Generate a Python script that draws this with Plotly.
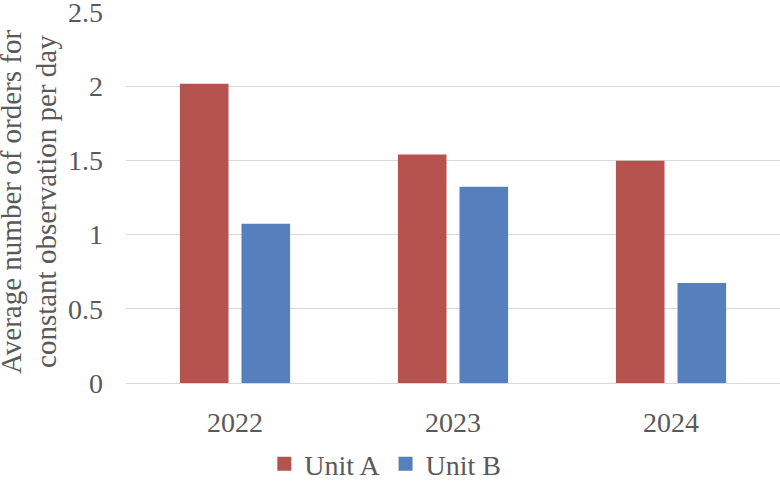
import plotly.graph_objects as go

years = ["2022", "2023", "2024"]
unit_a = [2.01, 1.534, 1.491]
unit_b = [1.066, 1.317, 0.668]
y_ticks = [0, 0.5, 1, 1.5, 2, 2.5]
title_lines = ["Average number of orders for", "constant observation per day"]

RED = "#B7534E"
BLUE = "#5580BD"
TXT = "#595959"
FONT = "Liberation Serif, Times New Roman, serif"

fig = go.Figure()
fig.add_trace(go.Bar(x=years, y=unit_a, name="Unit A",
                     marker=dict(color=RED, line=dict(width=2, color=RED))))
fig.add_trace(go.Bar(x=years, y=unit_b, name="Unit B",
                     marker=dict(color=BLUE, line=dict(width=2, color=BLUE))))

fig.update_layout(
    width=780, height=482,
    margin=dict(l=126, r=0, t=12, b=99),
    paper_bgcolor="white", plot_bgcolor="white",
    barmode="group", bargap=0.435, bargroupgap=0.2435,
    font=dict(family=FONT, size=28, color=TXT),
    showlegend=True,
    legend=dict(orientation="h", xref="container", yref="container",
                x=0.494, xanchor="center", y=0.037, yanchor="middle",
                font=dict(family=FONT, size=28, color=TXT),
                itemsizing="constant", tracegroupgap=0, itemwidth=30),
    xaxis=dict(showgrid=False, showline=False, ticks="", ticklabelstandoff=20,
               automargin=False,
               tickfont=dict(family=FONT, size=28, color=TXT)),
    yaxis=dict(range=[0, 2.501], tickvals=y_ticks, ticktext=[f"{v:g}" for v in y_ticks],
               showgrid=True, gridcolor="#D9D9D9", gridwidth=1.3,
               zeroline=True, zerolinecolor="#D9D9D9", zerolinewidth=1.3,
               showline=False, ticks="", ticklabelstandoff=22,
               ticklabeloverflow="allow", automargin=False,
               tickfont=dict(family=FONT, size=28, color=TXT)),
)

for xpos, line in zip([-0.1758, -0.1223], title_lines):
    fig.add_annotation(
        text=line, xref="paper", yref="paper", x=xpos, y=0.488,
        xanchor="center", yanchor="middle", textangle=-90, showarrow=False,
        font=dict(family=FONT, size=29, color=TXT),
    )

fig.write_html("out.html")
